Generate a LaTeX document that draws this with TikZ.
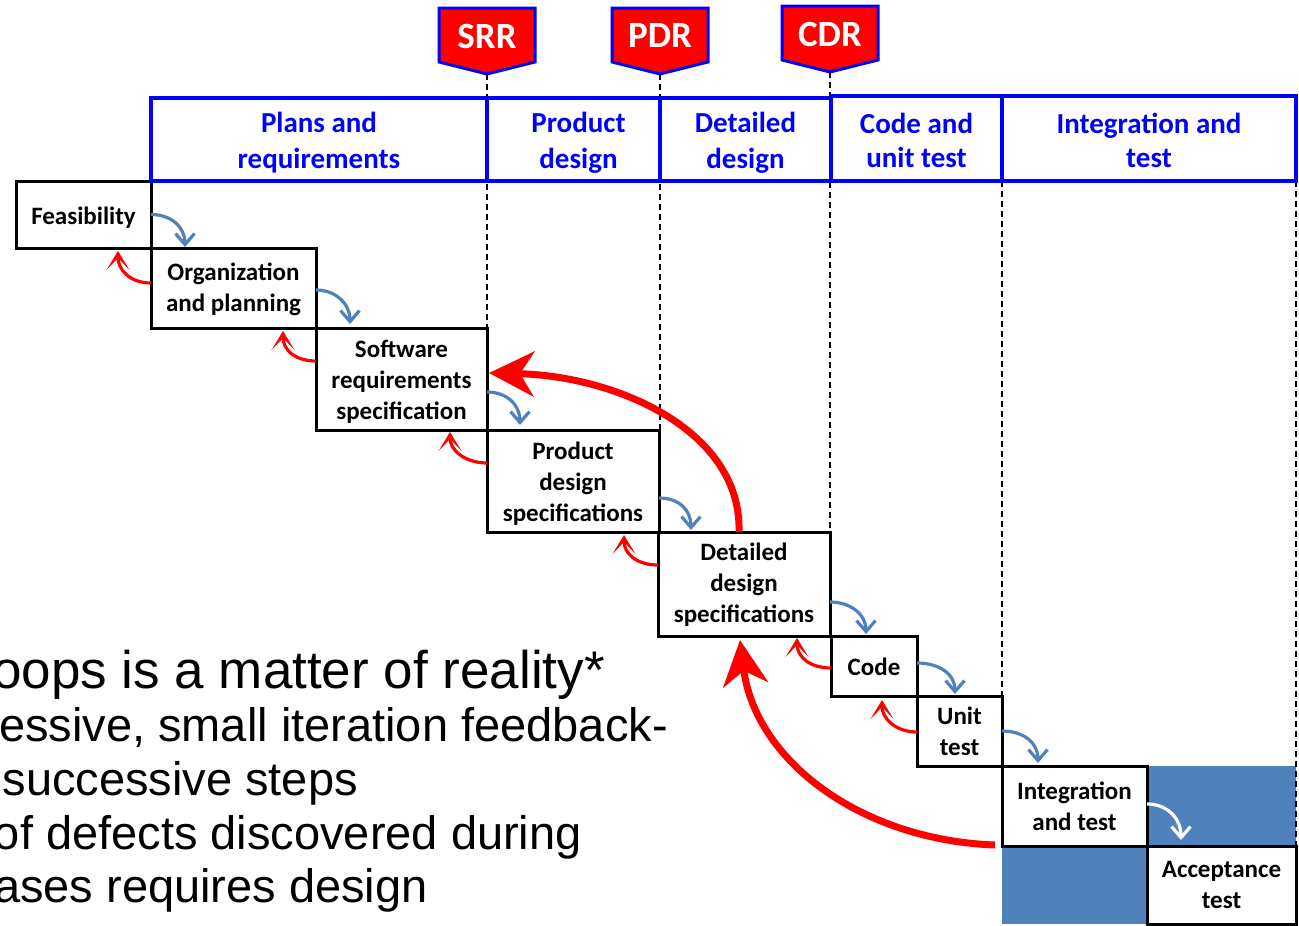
\documentclass[tikz,border=0pt]{standalone}
\usepackage{fontspec}
\newfontfamily\calib{Carlito}
\newfontfamily\arialf{Liberation Sans}
\usetikzlibrary{arrows.meta,calc,backgrounds}

\definecolor{hdrblue}{RGB}{0,0,255}
\definecolor{steel}{RGB}{79,129,189}
\definecolor{alarm}{RGB}{255,0,0}

% step box: name, north-west corner, width, height, text shift, text
\newcommand{\wfstep}[6]{%
  \node[stepbox, minimum width=#3, minimum height=#4,
    label={[steptext, yshift=#5]center:{#6}}] (#1) at (#2) {};}
% phase header: name, north-west corner, width, height, text shift options, text
\newcommand{\wfphase}[6]{%
  \node[phase, minimum width=#3, minimum height=#4,
    label={[phasetext, #5]center:{#6}}] (#1) at (#2) {};}

\begin{document}
\begin{tikzpicture}[x=1pt,y=-1pt,
  stepbox/.style={draw=black, line width=3pt, fill=white,
    inner sep=0pt, outer sep=0pt, anchor=north west},
  steptext/.style={align=center, inner sep=0pt, text=black,
    font=\calib\bfseries\fontsize{25}{31}\selectfont},
  phase/.style={draw=hdrblue, line width=4pt,
    inner sep=0pt, outer sep=0pt, anchor=north west},
  phasetext/.style={align=center, inner sep=0pt, text=hdrblue, yshift=-3pt,
    font=\calib\bfseries\fontsize{29}{36}\selectfont},
  gate/.style={fill=alarm, draw=hdrblue, line width=3pt, line join=miter},
  gatetext/.style={text=white, inner sep=0pt, font=\calib\bfseries\fontsize{37}{42}\selectfont},
  tick/.style={draw=black, line width=1.8pt, dash pattern=on 6pt off 4pt},
  fwd/.style={draw=steel, line width=3.2pt,
    -{Straight Barb[length=11pt,width=19pt]}},
  back/.style={draw=alarm, line width=3.2pt,
    -{Stealth[length=19pt,width=23pt,inset=12pt]}},
  bigback/.style={draw=alarm, line width=7pt,
    -{Stealth[length=45pt,width=45pt,inset=14pt]}},
  bullet/.style={anchor=base east, inner sep=0pt, text=black},
]
\clip (0,0) rectangle (1299,926);
\useasboundingbox (0,0) rectangle (1299,926);

% waterfall steps
\wfstep{feas}{16,181}{135}{67}{-3pt}{Feasibility}
\wfstep{org}{151,248}{165}{80}{-1pt}{Organization\\and planning}
\wfstep{srs}{316,328}{171}{102}{-3pt}{Software\\requirements\\specification}
\wfstep{pds}{487,430}{172}{102}{-3pt}{Product\\design\\specifications}
\wfstep{dds}{658,532}{172}{104}{-1pt}{Detailed\\design\\specifications}
\wfstep{code}{831,636}{86}{60}{-1pt}{Code}
\wfstep{unit}{917,696}{85}{70}{0pt}{Unit\\test}
\wfstep{integ}{1002,766}{145}{80}{0pt}{Integration\\and test}
\wfstep{accept}{1147,846}{149}{78}{0pt}{Acceptance\\test}

% phase headers
\wfphase{h1}{151,98}{336}{83}{}{Plans and\\requirements}
\wfphase{h2}{487,98}{173}{83}{xshift=5pt}{Product\\design}
\wfphase{h3}{660,98}{171}{83}{}{Detailed\\design}
\wfphase{h4}{831,96}{171}{85}{yshift=1pt}{Code and\\[-2pt]unit test}
\wfphase{h5}{1002,96}{294}{85}{yshift=1pt}{Integration and\\[-2pt]test}

% review gates
\foreach \nm/\lab/\cx/\cy in {srr/SRR/487/36, pdr/PDR/660/36, cdr/CDR/830/34}{
  \draw[gate] (\cx-48,\cy-28) -- (\cx+48,\cy-28) -- (\cx+48,\cy+26)
    -- (\cx,\cy+38) -- (\cx-48,\cy+26) -- cycle;
  \node[gatetext] (\nm) at (\cx,\cy) {\lab};
  \coordinate (\nm tip) at (\cx,\cy+38);
}

\begin{pgfonlayer}{background}
  \fill[steel] (integ.north west) rectangle (accept.south east);
  \draw[tick] (srrtip) -- (srrtip |- srs.north east);
  \draw[tick] (pdrtip) -- (pdrtip |- pds.north east);
  \draw[tick] (cdrtip) -- (cdrtip |- dds.north east);
  \draw[tick] (h4.south east) -- (h4.south east |- unit.north east);
  \draw[tick, line width=2.6pt] (h5.south east) -- (accept.north east);
\end{pgfonlayer}

% forward flow between successive steps
\draw[fwd] (feas.east) .. controls +(20,0) and +(0,-20) .. ($(org.north west)+(34,-1)$);
\draw[fwd] ($(org.east)+(0,2)$) .. controls +(20,0) and +(0,-20) .. ($(srs.north west)+(34,-4)$);
\draw[fwd] ($(srs.east)+(0,13)$) .. controls +(20,0) and +(0,-20) .. ($(pds.north west)+(33,-5)$);
\draw[fwd] ($(pds.east)+(0,17)$) .. controls +(20,0) and +(0,-20) .. ($(dds.north west)+(33,-2)$);
\draw[fwd] ($(dds.east)+(0,18)$) .. controls +(20,0) and +(0,-20) .. ($(code.north west)+(35,-2)$);
\draw[fwd] ($(code.east)+(0,-3)$) .. controls +(22,0) and +(0,-20) .. ($(unit.north west)+(38,-2)$);
\draw[fwd] (unit.east) .. controls +(22,0) and +(0,-20) .. ($(integ.north west)+(36,-3)$);
\draw[fwd, draw=white] ($(integ.east)+(0,-2)$) .. controls +(20,0) and +(0,-22) .. ($(accept.north west)+(34,-6)$);

% small feedback loops to the previous step
\draw[back] ($(org.west)+(0,-5)$) .. controls +(-22,0) and +(0,18) .. ($(feas.south east)+(-33,3)$);
\draw[back] ($(srs.west)+(0,-18)$) .. controls +(-22,0) and +(0,18) .. ($(org.south east)+(-33,3)$);
\draw[back] ($(pds.west)+(0,-18)$) .. controls +(-22,0) and +(0,18) .. ($(srs.south east)+(-37,2)$);
\draw[back] ($(dds.west)+(0,-19)$) .. controls +(-22,0) and +(0,18) .. ($(pds.south east)+(-35,3)$);
\draw[back] ($(code.west)+(0,2)$) .. controls +(-22,0) and +(0,18) .. ($(dds.south east)+(-33,2)$);
\draw[back] ($(unit.west)+(0,1)$) .. controls +(-22,0) and +(0,18) .. ($(code.south east)+(-35,4)$);

% long feedback loops
\draw[bigback] ($(dds.north)+(-5,0)$) .. controls +(3,-100) and +(130,3) .. ($(srs.east)+(2,-6)$);
\draw[bigback] ($(integ.south west)+(-7,-1)$) .. controls +(-135,-5) and +(15,120) .. ($(dds.south)+(-4,4)$);

% bullet text
\node[bullet, font=\arialf\fontsize{53}{60}\selectfont] (t1) at (605,688) {oops is a matter of reality*};
\node[bullet, font=\arialf\fontsize{47}{54}\selectfont] (t2) at (668,741) {essive, small iteration feedback-};
\node[bullet, font=\arialf\fontsize{47}{54}\selectfont] (t3) at (358,795) {successive steps};
\node[bullet, font=\arialf\fontsize{47}{54}\selectfont] (t4) at (582,849) {of defects discovered during};
\node[bullet, font=\arialf\fontsize{47}{54}\selectfont] (t5) at (428,902) {ases requires design};
\end{tikzpicture}
\end{document}
